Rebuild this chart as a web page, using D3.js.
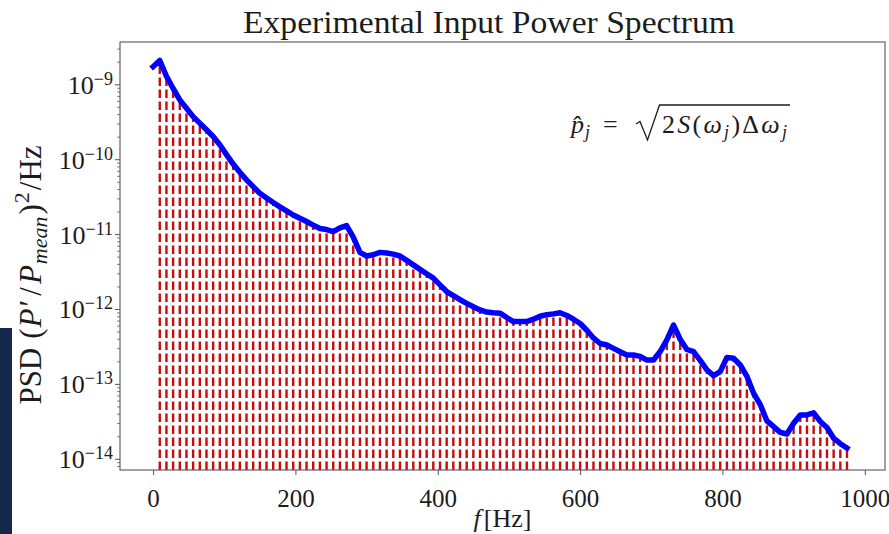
<!DOCTYPE html>
<html><head><meta charset="utf-8">
<script src="https://cdn.jsdelivr.net/npm/d3@7"></script>
<style>body{margin:0;background:#fff}svg{display:block}</style>
</head><body>
<svg id="chart" width="889" height="534"></svg>
<script>
// ---------- data ----------
const freqs = [0, 9.375, 18.75, 28.125, 37.5, 46.875, 56.25, 65.625, 75, 84.375, 93.75, 103.125, 112.5, 121.875, 131.25, 140.625, 150, 159.375, 168.75, 178.125, 187.5, 196.875, 206.25, 215.625, 225, 234.375, 243.75, 253.125, 262.5, 271.875, 281.25, 290.625, 300, 309.375, 318.75, 328.125, 337.5, 346.875, 356.25, 365.625, 375, 384.375, 393.75, 403.125, 412.5, 421.875, 431.25, 440.625, 450, 459.375, 468.75, 478.125, 487.5, 496.875, 506.25, 515.625, 525, 534.375, 543.75, 553.125, 562.5, 571.875, 581.25, 590.625, 600, 609.375, 618.75, 628.125, 637.5, 646.875, 656.25, 665.625, 675, 684.375, 693.75, 703.125, 712.5, 721.875, 731.25, 740.625, 750, 759.375, 768.75, 778.125, 787.5, 796.875, 806.25, 815.625, 825, 834.375, 843.75, 853.125, 862.5, 871.875, 881.25, 890.625, 900, 909.375, 918.75, 928.125, 937.5, 946.875, 956.25, 965.625, 975];
const psd = [1.72e-9, 2.08e-9, 1.28e-9, 8.8e-10, 6.2e-10, 4.8e-10, 3.7e-10, 3.03e-10, 2.47e-10, 2.01e-10,
  1.56e-10, 1.15e-10, 8.6e-11, 6.7e-11, 5.3e-11, 4.3e-11, 3.5e-11, 3.04e-11, 2.64e-11, 2.31e-11,
  2.04e-11, 1.80e-11, 1.63e-11, 1.47e-11, 1.32e-11, 1.19e-11, 1.15e-11, 1.08e-11, 1.21e-11, 1.30e-11,
  9.1e-12, 5.7e-12, 5.1e-12, 5.3e-12, 5.7e-12, 5.6e-12, 5.4e-12, 5.1e-12, 4.46e-12, 3.88e-12,
  3.38e-12, 2.95e-12, 2.58e-12, 2.10e-12, 1.71e-12, 1.51e-12, 1.33e-12, 1.19e-12, 1.07e-12, 9.7e-13,
  9.1e-13, 8.9e-13, 8.8e-13, 7.7e-13, 6.8e-13, 6.8e-13, 6.8e-13, 7.3e-13, 8.0e-13, 8.4e-13,
  8.6e-13, 8.9e-13, 8.2e-13, 7.3e-13, 6.4e-13, 5.2e-13, 4.1e-13, 3.46e-13, 3.30e-13, 2.98e-13,
  2.69e-13, 2.43e-13, 2.43e-13, 2.33e-13, 2.08e-13, 2.08e-13, 2.70e-13, 3.86e-13, 6.1e-13, 3.94e-13,
  2.88e-13, 2.69e-13, 2.06e-13, 1.54e-13, 1.29e-13, 1.46e-13, 2.25e-13, 2.20e-13, 1.79e-13, 1.26e-13,
  7.5e-14, 5.3e-14, 3.2e-14, 2.69e-14, 2.25e-14, 2.14e-14, 2.98e-14, 3.85e-14, 3.85e-14, 4.1e-14,
  3.14e-14, 2.62e-14, 1.88e-14, 1.59e-14, 1.39e-14];
const xTickValues = [0, 200, 400, 600, 800, 1000];
const yTickExponents = [-9, -10, -11, -12, -13, -14];
const xDomain = [-46.5, 1028.4];
const yDomain = [Math.pow(10, -14.15), Math.pow(10, -8.435)];
const titleText = "Experimental Input Power Spectrum";

// ---------- layout ----------
const L = 120, R = 885, T = 42, B = 470;
const svg = d3.select("#chart");
const FONT = "'Liberation Serif','Times New Roman',serif";
const TXT = "#1c1c1c", AX = "#555";

svg.append("rect").attr("x", 0).attr("y", 328).attr("width", 12).attr("height", 206).attr("fill", "#13294b");

const x = d3.scaleLinear().domain(xDomain).range([L, R]);
const y = d3.scaleLog().domain(yDomain).range([B, T]);

svg.append("clipPath").attr("id", "clip").append("rect")
  .attr("x", L).attr("y", T).attr("width", R - L).attr("height", B - T);

const data = freqs.map((f, i) => ({f, v: psd[i]}));
const plot = svg.append("g").attr("clip-path", "url(#clip)");

// stems (red dashed)
plot.selectAll("line.stem").data(data.filter(d => d.f > 0)).join("line")
  .attr("class", "stem")
  .attr("x1", d => x(d.f)).attr("x2", d => x(d.f))
  .attr("y1", B).attr("y2", d => y(d.v))
  .attr("stroke", "#cc0a0a").attr("stroke-width", 2.4)
  .attr("stroke-dasharray", "8.4,3.6");

// blue line
plot.append("path").datum(data)
  .attr("d", d3.line().x(d => x(d.f)).y(d => y(d.v)))
  .attr("fill", "none").attr("stroke", "#0000ff").attr("stroke-width", 5.5)
  .attr("stroke-linejoin", "round").attr("stroke-linecap", "square");

// frame
svg.append("rect").attr("x", L).attr("y", T).attr("width", R - L).attr("height", B - T)
  .attr("fill", "none").attr("stroke", AX).attr("stroke-width", 1.1);

// x axis
const xAxis = svg.append("g").attr("transform", `translate(0,${B})`)
  .call(d3.axisBottom(x).tickValues(xTickValues).tickSize(5).tickPadding(8).tickFormat(d3.format("d")));
xAxis.select(".domain").remove();
xAxis.selectAll(".tick line").attr("stroke", AX).attr("stroke-width", 1);
xAxis.selectAll(".tick text").attr("font-family", FONT).attr("font-size", 25).attr("fill", TXT)
  .attr("dy", "0.95em");

// y axis major
const majors = yTickExponents.map(e => Math.pow(10, e));
const yAxis = svg.append("g").attr("transform", `translate(${L},0)`)
  .call(d3.axisLeft(y).tickValues(majors).tickSize(5).tickFormat(""));
yAxis.select(".domain").remove();
yAxis.selectAll(".tick line").attr("stroke", AX).attr("stroke-width", 1);
// minor ticks
const minors = [];
for (let e = -15; e <= -9; e++) for (let m = 2; m <= 9; m++) {
  const v = m * Math.pow(10, e);
  if (v >= yDomain[0] && v <= yDomain[1]) minors.push(v);
}
const yMinor = svg.append("g").attr("transform", `translate(${L},0)`)
  .call(d3.axisLeft(y).tickValues(minors).tickSize(2.8).tickFormat(""));
yMinor.select(".domain").remove();
yMinor.selectAll(".tick line").attr("stroke", AX).attr("stroke-width", 0.8);

// y tick labels: 10^e
yTickExponents.forEach(e => {
  const t = svg.append("text").attr("x", L - 7).attr("y", y(Math.pow(10, e)) + 9.5)
    .attr("text-anchor", "end").attr("font-family", FONT).attr("fill", TXT).attr("font-size", 26);
  t.append("tspan").text("10");
  t.append("tspan").attr("font-size", 18).attr("dy", -9).text("\u2212" + Math.abs(e));
});

// title
svg.append("text").attr("x", 489).attr("y", 33).attr("text-anchor", "middle")
  .attr("font-family", FONT).attr("font-size", 32).attr("fill", TXT)
  .attr("textLength", 492).attr("lengthAdjust", "spacingAndGlyphs").text(titleText);

// x label
const xl = svg.append("text").attr("x", 502.5).attr("y", 527).attr("text-anchor", "middle")
  .attr("font-family", FONT).attr("font-size", 26).attr("fill", TXT);
xl.append("tspan").attr("font-style", "italic").text("f");
xl.append("tspan").attr("dx", 3).text("[Hz]");

// y label
const yl = svg.append("text").attr("transform", "translate(41,275) rotate(-90)")
  .attr("text-anchor", "middle").attr("font-family", FONT).attr("font-size", 31).attr("fill", TXT);
yl.append("tspan").text("PSD");
yl.append("tspan").attr("dx", 9).text("(");
yl.append("tspan").attr("font-style", "italic").attr("dx", 1).text("P");
yl.append("tspan").attr("dx", 2).text("\u2032");
yl.append("tspan").attr("dx", 4).text("/");
yl.append("tspan").attr("font-style", "italic").attr("dx", 3).text("P");
yl.append("tspan").attr("font-style", "italic").attr("font-size", 22).attr("dx", 1).attr("dy", 6).text("mean");
yl.append("tspan").attr("dx", 2).attr("dy", -6).text(")");
yl.append("tspan").attr("font-size", 22).attr("dx", 1).attr("dy", -12).text("2");
yl.append("tspan").attr("dx", 2).attr("dy", 12).text("/Hz");

// formula  p̂_j = sqrt(2 S(ω_j) Δω_j)
const fb = 133;
const f1 = svg.append("text").attr("x", 571).attr("y", fb).attr("font-family", FONT)
  .attr("font-size", 26).attr("fill", TXT);
f1.append("tspan").attr("font-style", "italic").text("p\u0302");
f1.append("tspan").attr("font-style", "italic").attr("font-size", 18).attr("dx", 1).attr("dy", 5).text("j");
f1.append("tspan").attr("dx", 13).attr("dy", -5).text("=");
svg.append("path").attr("d", "M636,124 L640,121.5 L647.5,140 L659.5,105 H790")
  .attr("fill", "none").attr("stroke", TXT).attr("stroke-width", 1.3);
const f2 = svg.append("text").attr("x", 662).attr("y", fb).attr("font-family", FONT)
  .attr("font-size", 26).attr("fill", TXT).attr("textLength", 125).attr("lengthAdjust", "spacing");
f2.append("tspan").text("2");
f2.append("tspan").attr("font-style", "italic").text("S");
f2.append("tspan").text("(");
f2.append("tspan").attr("font-style", "italic").text("\u03C9");
f2.append("tspan").attr("font-style", "italic").attr("font-size", 18).attr("dy", 5).text("j");
f2.append("tspan").attr("dy", -5).text(")\u0394");
f2.append("tspan").attr("font-style", "italic").text("\u03C9");
f2.append("tspan").attr("font-style", "italic").attr("font-size", 18).attr("dy", 5).text("j");
</script>
</body></html>
